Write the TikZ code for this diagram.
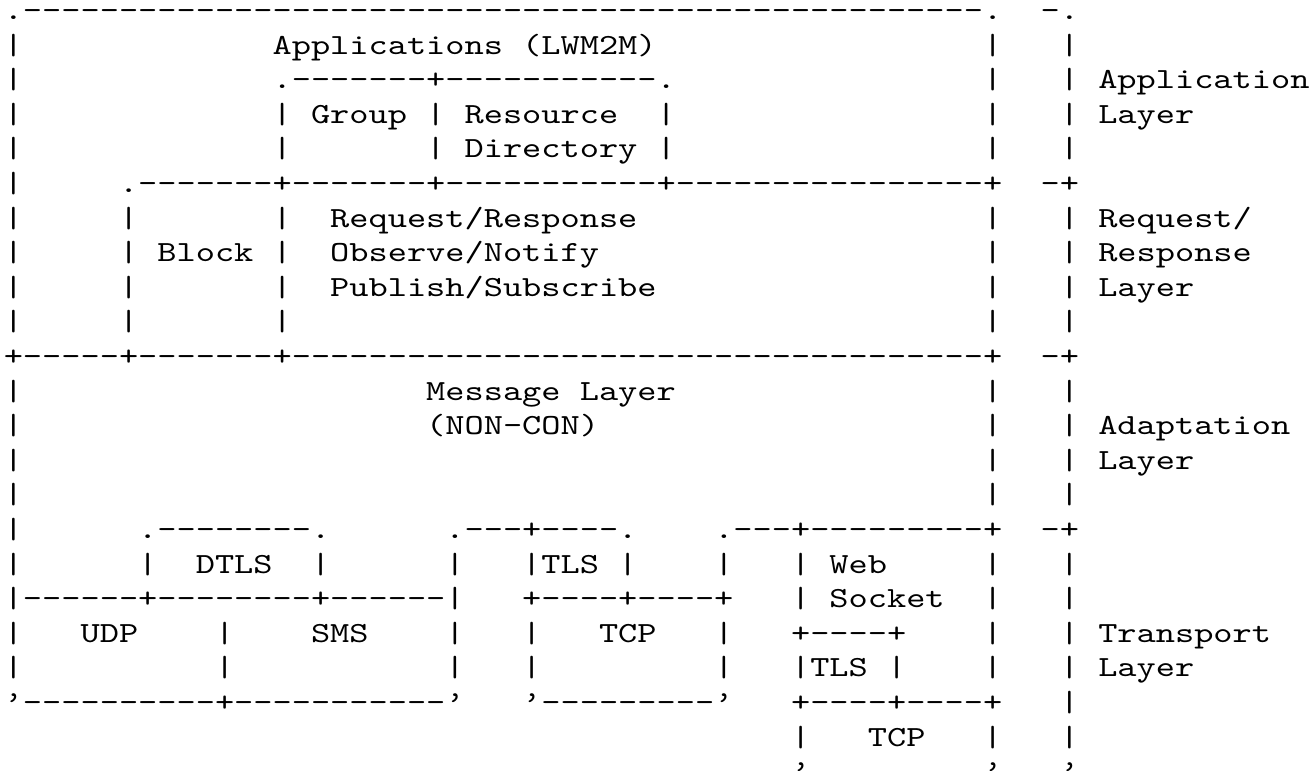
\documentclass[tikz,border=0pt]{standalone}
\usepackage{fontspec}
\setmonofont{lmmono10-regular.otf}[FakeStretch=1.2524]
\newcommand\hy[1]{\foreach\k in {1,...,#1}{-}}
% one row of the figure: col/text pairs, placed on the character grid
\newcommand\asciirow[2]{%
  \foreach \cl/\tx in {#2}
    \node[asc] (r#1-\cl) at (\cl, {1-#1}) {\tx};}
\tikzset{asc/.style={font=\ttfamily\fontsize{14.6}{17.3}\selectfont, anchor=base west, inner sep=0pt}}
\begin{document}
\begin{tikzpicture}[x=9.6pt, y=17.3pt]
        \useasboundingbox (-0.177, 0.561) rectangle (68.10, -21.72);
        \asciirow{1}{0/{.\hy{50}.},54/{-.}}
        \asciirow{2}{0/{|},14/{Applications (LWM2M)},51/{|},55/{|}}
        \asciirow{3}{0/{|},14/{.\hy{7}+\hy{11}.},51/{|},55/{| Application}}
        \asciirow{4}{0/{|},14/{| Group | Resource},34/{|},51/{|},55/{| Layer}}
        \asciirow{5}{0/{|},14/{|},22/{| Directory |},51/{|},55/{|}}
        \asciirow{6}{0/{|},6/{.\hy{7}+\hy{7}+\hy{11}+\hy{16}+},54/{-+}}
        \asciirow{7}{0/{|},6/{|},14/{|},17/{Request/Response},51/{|},55/{| Request/}}
        \asciirow{8}{0/{|},6/{| Block |},17/{Observe/Notify},51/{|},55/{| Response}}
        \asciirow{9}{0/{|},6/{|},14/{|},17/{Publish/Subscribe},51/{|},55/{| Layer}}
        \asciirow{10}{0/{|},6/{|},14/{|},51/{|},55/{|}}
        \asciirow{11}{0/{+\hy{5}+\hy{7}+\hy{36}+},54/{-+}}
        \asciirow{12}{0/{|},22/{Message Layer},51/{|},55/{|}}
        \asciirow{13}{0/{|},22/{(NON-CON)},51/{|},55/{| Adaptation}}
        \asciirow{14}{0/{|},51/{|},55/{| Layer}}
        \asciirow{15}{0/{|},51/{|},55/{|}}
        % transport boxes
        \asciirow{16}{0/{|},7/{.\hy{8}.},23/{.\hy{3}+\hy{4}.},37/{.\hy{3}+\hy{9}+},54/{-+}}
        \asciirow{17}{0/{|},7/{|},10/{DTLS},16/{|},23/{|},27/{|TLS |},37/{|},41/{| Web},51/{|},55/{|}}
        \asciirow{18}{0/{|\hy{6}+\hy{8}+\hy{6}|},27/{+\hy{4}+\hy{4}+},41/{| Socket},51/{|},55/{|}}
        \asciirow{19}{0/{|},4/{UDP},11/{|},16/{SMS},23/{|},27/{|},31/{TCP},37/{|},41/{+\hy{4}+},51/{|},55/{| Transport}}
        \asciirow{20}{0/{|},11/{|},23/{|},27/{|},37/{|},41/{|TLS |},51/{|},55/{| Layer}}
        \asciirow{21}{0/{’\hy{10}+\hy{11}’},27/{’\hy{9}’},41/{+\hy{4}+\hy{4}+},55/{|}}
        \asciirow{22}{41/{|},45/{TCP},51/{|},55/{|}}
        \asciirow{23}{41/{’},51/{’},55/{’}}
    \end{tikzpicture}
\end{document}
